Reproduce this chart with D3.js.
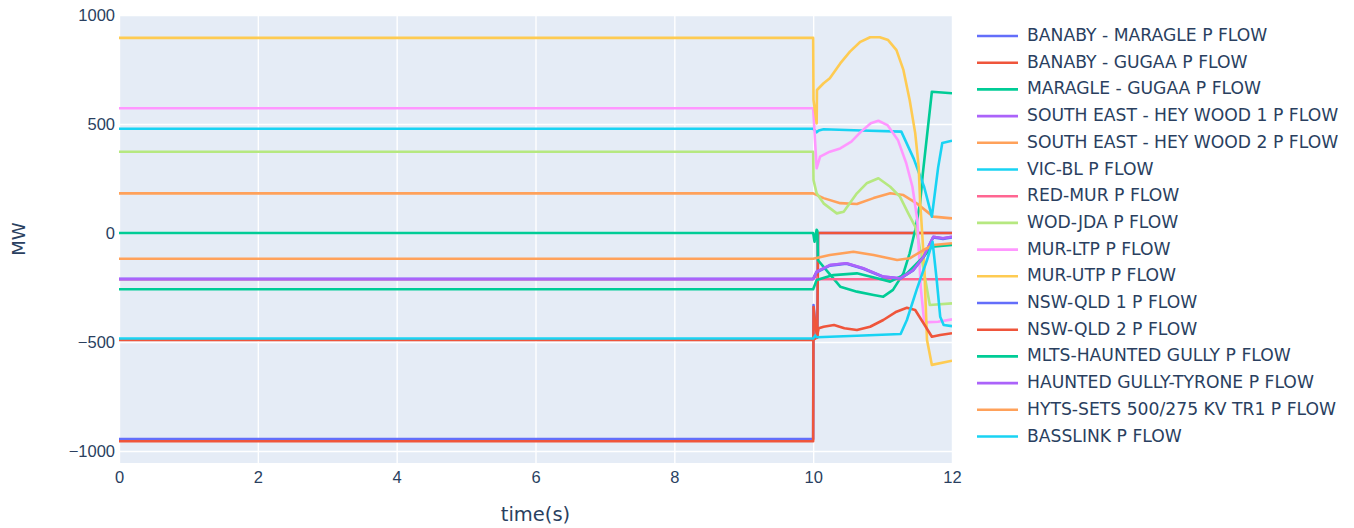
<!DOCTYPE html>
<html>
<head>
<meta charset="utf-8">
<script src="https://cdn.jsdelivr.net/npm/d3@7"></script>
<style>
  html, body { margin: 0; padding: 0; background: #fff; }
  svg { display: block; font-family: "DejaVu Sans", Verdana, Arial, sans-serif; }
</style>
</head>
<body>
<svg id="chart" width="1354" height="528"></svg>
<script>
// ---------- data ----------
const seriesNames = [
  "BANABY - MARAGLE P FLOW",
  "BANABY - GUGAA P FLOW",
  "MARAGLE - GUGAA P FLOW",
  "SOUTH EAST - HEY WOOD 1 P FLOW",
  "SOUTH EAST - HEY WOOD 2 P FLOW",
  "VIC-BL P FLOW",
  "RED-MUR P FLOW",
  "WOD-JDA P FLOW",
  "MUR-LTP P FLOW",
  "MUR-UTP P FLOW",
  "NSW-QLD 1 P FLOW",
  "NSW-QLD 2 P FLOW",
  "MLTS-HAUNTED GULLY P FLOW",
  "HAUNTED GULLY-TYRONE P FLOW",
  "HYTS-SETS 500/275 KV TR1 P FLOW",
  "BASSLINK P FLOW"
];
const seriesColors = ["#636efa","#EF553B","#00cc96","#ab63fa","#FFA15A","#19d3f3","#FF6692","#B6E880","#FF97FF","#FECB52","#636efa","#EF553B","#00cc96","#ab63fa","#FFA15A","#19d3f3"];

// [time (s), MW]
const banabyMaragle = [[0,-945],[10,-945],[10.005,-330],[10.03,-420],[10.06,-475],[10.07,0],[12,0]];
const banabyGugaa   = [[0,-955],[10,-955],[10.005,-340],[10.03,-420],[10.06,-480],[10.07,0],[12,0]];
const maragleGugaa  = [[0,0],[10,0],[10.02,-40],[10.05,15],[10.06,10],[10.07,-125],[10.15,-155],[10.39,-246],[10.63,-269],[10.87,-284],[11.01,-292],[11.15,-261],[11.30,-185],[11.39,-93],[11.47,14],[11.54,136],[11.58,274],[11.71,648],[12,641]];
const southEastHeywood1 = [[0,-211],[10,-211],[10.05,-177],[10.24,-147],[10.48,-139],[10.72,-162],[11.01,-200],[11.25,-208],[11.44,-170],[11.59,-109],[11.73,-17],[11.87,-24],[12,-17]];
const southEastHeywood2 = [[0,182],[10,182],[10.15,160],[10.39,137],[10.63,133],[10.87,160],[11.11,182],[11.30,174],[11.49,136],[11.64,98],[11.73,75],[12,67]];
const vicBl         = [[0,478],[10,478],[10.05,462],[10.08,470],[10.15,476],[10.7,470],[11.27,465],[11.45,340],[11.6,210],[11.71,75],[11.8,300],[11.86,413],[12,423]];
const redMur        = [[0,-212],[10,-212],[10.03,-190],[10.06,-212],[12,-212]];
const wodJda        = [[0,373],[10,373],[10.005,243],[10.05,182],[10.15,136],[10.34,90],[10.44,98],[10.63,182],[10.77,228],[10.94,251],[11.11,212],[11.25,167],[11.37,90],[11.47,29],[11.52,-40],[11.68,-330],[12,-323]];
const murLtp        = [[0,572],[10,572],[10.05,297],[10.1,350],[10.24,373],[10.39,388],[10.55,419],[10.69,465],[10.83,503],[10.94,515],[11.07,495],[11.22,427],[11.34,321],[11.43,212],[11.5,60],[11.55,-250],[11.6,-410],[11.8,-407],[12,-396]];
const murUtp        = [[0,895],[10,895],[10.005,610],[10.05,503],[10.055,656],[10.15,687],[10.24,710],[10.39,778],[10.53,832],[10.68,877],[10.82,898],[10.96,898],[11.08,885],[11.2,839],[11.3,748],[11.39,610],[11.47,458],[11.52,304],[11.54,151],[11.6,-150],[11.64,-491],[11.71,-605],[12,-586]];
const nswQld1       = [[0,-211],[10,-211],[10.05,-180],[10.24,-150],[10.48,-141],[10.72,-164],[11.01,-202],[11.25,-210],[11.44,-172],[11.59,-111],[11.73,-20],[11.87,-27],[12,-20]];
const nswQld2       = [[0,-490],[10,-490],[10.05,-480],[10.08,-437],[10.15,-430],[10.3,-422],[10.45,-437],[10.63,-445],[10.82,-430],[11.01,-399],[11.2,-361],[11.35,-343],[11.47,-353],[11.59,-414],[11.71,-476],[11.83,-468],[12,-460]];
const mltsHauntedGully = [[0,-258],[10,-258],[10.05,-216],[10.29,-193],[10.63,-185],[10.92,-208],[11.11,-223],[11.35,-185],[11.59,-109],[11.71,-63],[12,-55]];
const hauntedGullyTyrone = [[0,-211],[10,-211],[10.05,-177],[10.24,-147],[10.48,-139],[10.72,-162],[11.01,-200],[11.25,-208],[11.44,-170],[11.59,-109],[11.73,-17],[11.87,-24],[12,-17]];
const hytsSets      = [[0,-118],[10,-118],[10.24,-101],[10.58,-86],[10.87,-101],[11.21,-124],[11.39,-116],[11.59,-78],[11.73,-55],[12,-47]];
const basslink      = [[0,-484],[10,-484],[10.03,-470],[10.05,-478],[10.63,-471],[11.26,-463],[11.35,-399],[11.49,-261],[11.64,-124],[11.72,-40],[11.78,-216],[11.83,-384],[11.88,-422],[12,-427]];

const seriesValues = [banabyMaragle, banabyGugaa, maragleGugaa, southEastHeywood1, southEastHeywood2, vicBl, redMur, wodJda, murLtp, murUtp, nswQld1, nswQld2, mltsHauntedGully, hauntedGullyTyrone, hytsSets, basslink];

const xTicks = [0, 2, 4, 6, 8, 10, 12];
const yTicks = [-1000, -500, 0, 500, 1000];
const xTitle = "time(s)";
const yTitle = "MW";

// ---------- layout ----------
const svg = d3.select("#chart");
const plot = { left: 119, right: 952, top: 15, bottom: 463 };
const x = d3.scaleLinear().domain([0, 12]).range([plot.left, plot.right]);
const y = d3.scaleLinear().domain([-1055, 1000]).range([plot.bottom, plot.top]);
const textColor = "#2a3f5f";

svg.append("rect")
  .attr("x", plot.left).attr("y", plot.top)
  .attr("width", plot.right - plot.left).attr("height", plot.bottom - plot.top)
  .attr("fill", "#E5ECF6");

const gx = svg.append("g").attr("transform", `translate(0,${plot.bottom})`)
  .call(d3.axisBottom(x).tickValues(xTicks).tickSize(-(plot.bottom - plot.top)).tickPadding(8).tickFormat(d3.format("d")));
gx.select(".domain").remove();
gx.selectAll(".tick line").attr("stroke", "#fff").attr("stroke-width", 1.4);
gx.selectAll(".tick text").attr("fill", textColor).attr("font-size", 16.5).attr("dy", "0.71em");

const gy = svg.append("g").attr("transform", `translate(${plot.left},0)`)
  .call(d3.axisLeft(y).tickValues(yTicks).tickSize(-(plot.right - plot.left)).tickPadding(4)
    .tickFormat(d => d < 0 ? "\u2212" + Math.abs(d) : String(d)));
gy.select(".domain").remove();
gy.selectAll(".tick line").attr("stroke", "#fff").attr("stroke-width", 1.4);
gy.selectAll(".tick text").attr("fill", textColor).attr("font-size", 16.5);

svg.append("clipPath").attr("id", "clip").append("rect")
  .attr("x", plot.left).attr("y", plot.top)
  .attr("width", plot.right - plot.left).attr("height", plot.bottom - plot.top);

const line = d3.line().x(d => x(d[0])).y(d => y(d[1]));
const lines = svg.append("g").attr("clip-path", "url(#clip)");
seriesValues.forEach((vals, i) => {
  lines.append("path")
    .attr("d", line(vals))
    .attr("fill", "none")
    .attr("stroke", seriesColors[i])
    .attr("stroke-width", 2.6)
    .attr("stroke-linejoin", "round");
});

svg.append("text").attr("x", (plot.left + plot.right) / 2).attr("y", 515)
  .attr("text-anchor", "middle").attr("dominant-baseline", "middle")
  .attr("fill", textColor).attr("font-size", 19.5).text(xTitle);
svg.append("text").attr("transform", `translate(20,${(plot.top + plot.bottom) / 2}) rotate(-90)`)
  .attr("text-anchor", "middle").attr("dominant-baseline", "middle")
  .attr("fill", textColor).attr("font-size", 18).text(yTitle);

const leg = svg.append("g");
seriesNames.forEach((name, i) => {
  const yy = 36 + i * 26.7;
  leg.append("line").attr("x1", 977).attr("x2", 1018).attr("y1", yy).attr("y2", yy)
    .attr("stroke", seriesColors[i]).attr("stroke-width", 2.6);
  leg.append("text").attr("x", 1027).attr("y", yy).attr("dominant-baseline", "middle")
    .attr("fill", textColor).attr("font-size", 17.2).text(name);
});
</script>
</body>
</html>
